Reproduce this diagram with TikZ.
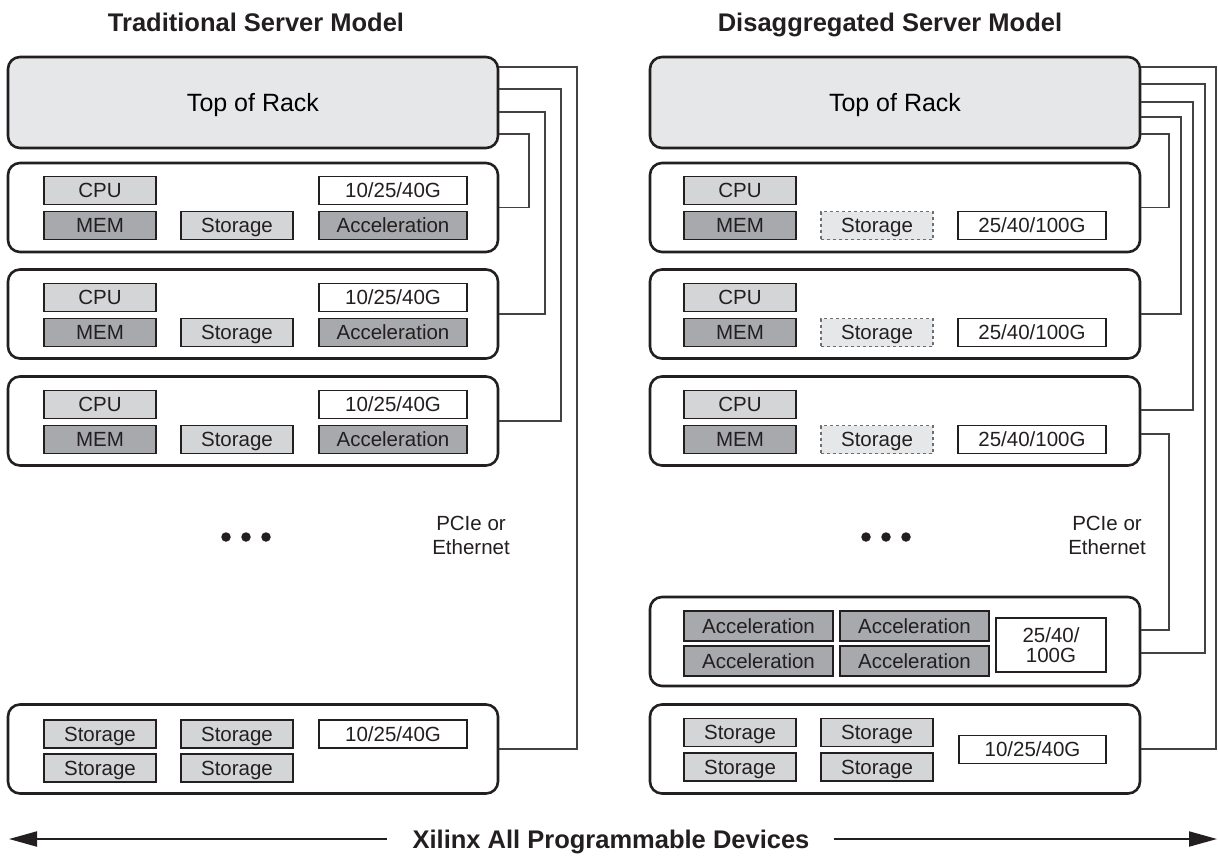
\documentclass[tikz,border=0pt]{standalone}
\usepackage{fontspec}
\setmainfont{Liberation Sans}
\usetikzlibrary{arrows.meta}
\definecolor{ink}{HTML}{231F20}
\definecolor{lgray}{HTML}{D4D5D7}
\definecolor{dgray}{HTML}{A7A9AC}
\definecolor{torgray}{HTML}{E6E7E8}
\definecolor{dashgray}{HTML}{6D6E71}
\tikzset{
  rack/.style={draw=ink, line width=2.6pt, rounded corners=12pt, minimum width=490pt, minimum height=89pt, inner sep=0pt},
  torbox/.style={rack, fill=torgray, minimum height=91pt, font=\fontsize{25}{28}\selectfont, text height=18pt, text depth=0pt},
  part/.style={draw=ink, line width=1.1pt, minimum width=112pt, minimum height=28pt, inner sep=0pt, font=\fontsize{20.5}{23}\selectfont, text=ink, text height=14.7pt, text depth=0pt},
  lpart/.style={part, fill=lgray},
  dpart/.style={part, fill=dgray},
  wpart/.style={part, fill=white, minimum width=148pt},
  dashpart/.style={part, fill=torgray, draw=dashgray, dashed},
  conn/.style={draw=ink!85, line width=1.2pt},
  titletext/.style={font=\fontsize{25.5}{28}\selectfont\bfseries, text=ink, text height=18.3pt, text depth=0pt},
  plain/.style={font=\fontsize{20.5}{24}\selectfont, text=ink, align=center},
  bigarrow/.style={draw=ink, line width=2pt, -{Triangle[length=28pt,width=15pt]}},
  dot/.style={circle, fill=ink, minimum size=9.5pt, inner sep=0pt}
}
\begin{document}
\begin{tikzpicture}[x=1pt, y=-1pt]
\useasboundingbox (0,0) rectangle (1218,857);
% ---------------- Left panel ----------------
\node[titletext] (titleL) at (256,22) {Traditional Server Model};
\node[torbox] (torL) at (253,102.5) {Top of Rack};
\node[rack] (s1L) at (253,207.5) {};
\node[rack] (s2L) at (253,314) {};
\node[rack] (s3L) at (253,421) {};
\node[rack] (s4L) at (253,749) {};
\foreach \s/\y in {s1L/0, s2L/107, s3L/214}{
  \node[lpart] (\s cpu) at (100,190.5+\y) {CPU};
  \node[dpart] (\s mem) at (100,225.5+\y) {MEM};
  \node[lpart] (\s sto) at (237,225.5+\y) {Storage};
  \node[wpart] (\s net) at (393,190.5+\y) {10/25/40G};
  \node[dpart, minimum width=148pt] (\s acc) at (393,225.5+\y) {Acceleration};
}
\node[lpart] (s4La) at (100,734) {Storage};
\node[lpart] (s4Lb) at (237,734) {Storage};
\node[lpart] (s4Lc) at (100,768) {Storage};
\node[lpart] (s4Ld) at (237,768) {Storage};
\node[wpart] (s4Lnet) at (393,734) {10/25/40G};
\node[dot] (dL1) at (226,537) {};
\node[dot] (dL2) at (246,537) {};
\node[dot] (dL3) at (266,537) {};
\node[plain] (pcieL) at (471,535) {PCIe or\\Ethernet};
\draw[conn] (torL.east |- 0,134) -- (529,134) |- (s1L.east);
\draw[conn] (torL.east |- 0,112) -- (545,112) |- (s2L.east);
\draw[conn] (torL.east |- 0,89) -- (561,89) |- (s3L.east);
\draw[conn] (torL.east |- 0,67) -- (577,67) |- (s4L.east);
% ---------------- Right panel ----------------
\node[titletext] (titleR) at (890,22) {Disaggregated Server Model};
\node[torbox] (torR) at (895,102.5) {Top of Rack};
\node[rack] (s1R) at (895,207.5) {};
\node[rack] (s2R) at (895,314) {};
\node[rack] (s3R) at (895,421) {};
\node[rack] (accR) at (895,641.5) {};
\node[rack] (stR) at (895,749) {};
\foreach \s/\y in {s1R/0, s2R/107, s3R/214}{
  \node[lpart] (\s cpu) at (740,190.5+\y) {CPU};
  \node[dpart] (\s mem) at (740,225.5+\y) {MEM};
  \node[dashpart] (\s sto) at (877,225.5+\y) {Storage};
  \node[wpart] (\s net) at (1032,225.5+\y) {25/40/100G};
}
\node[dpart, minimum width=149pt, minimum height=30pt] (acc1) at (758.5,626) {Acceleration};
\node[dpart, minimum width=149pt, minimum height=30pt] (acc2) at (914.5,626) {Acceleration};
\node[dpart, minimum width=149pt, minimum height=30pt] (acc3) at (758.5,661) {Acceleration};
\node[dpart, minimum width=149pt, minimum height=30pt] (acc4) at (914.5,661) {Acceleration};
\node[wpart, minimum width=110pt, minimum height=54pt, align=center, text height=, text depth=] (accnet) at (1051,645) {25/40/\\[-3pt]100G};
\node[lpart] (stRa) at (740,732.5) {Storage};
\node[lpart] (stRb) at (877,732.5) {Storage};
\node[lpart] (stRc) at (740,767) {Storage};
\node[lpart] (stRd) at (877,767) {Storage};
\node[wpart, minimum width=147pt] (stRnet) at (1032.5,749.5) {10/25/40G};
\node[dot] (dR1) at (866,537) {};
\node[dot] (dR2) at (886,537) {};
\node[dot] (dR3) at (906,537) {};
\node[plain] (pcieR) at (1107,535) {PCIe or\\Ethernet};
\draw[conn] (torR.east |- 0,134) -- (1169,134) |- (s1R.east);
\draw[conn] (torR.east |- 0,117) -- (1181,117) |- (s2R.east);
\draw[conn] (torR.east |- 0,102) -- (1193,102) |- (s3R.east |- 0,410);
\draw[conn] (torR.east |- 0,84) -- (1205,84) |- (accR.east |- 0,653);
\draw[conn] (torR.east |- 0,67) -- (1216,67) |- (stR.east);
\draw[conn] (s3R.east |- 0,434) -- (1169,434) |- (accR.east |- 0,630);
% ---------------- Bottom arrow ----------------
\node[titletext] (xil) at (611,839) {Xilinx All Programmable Devices};
\coordinate (aL) at (9,839);
\coordinate (aR) at (1217,839);
\draw[bigarrow] ([xshift=-22pt]xil.west) -- (aL);
\draw[bigarrow] ([xshift=21pt]xil.east) -- (aR);
\end{tikzpicture}
\end{document}
